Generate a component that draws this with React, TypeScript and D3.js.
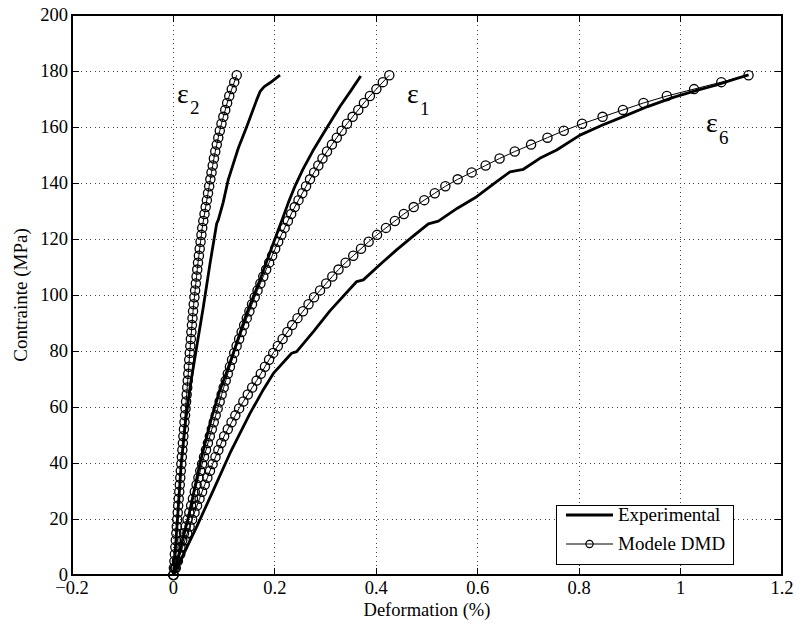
import React from "react";
import * as d3 from "d3";

const xTicks = [-0.2, 0, 0.2, 0.4, 0.6, 0.8, 1, 1.2];
const xTickLabels = ["\u22120.2", "0", "0.2", "0.4", "0.6", "0.8", "1", "1.2"];
const yTicks = [0, 20, 40, 60, 80, 100, 120, 140, 160, 180, 200];
const yTickLabels = ["0", "20", "40", "60", "80", "100", "120", "140", "160", "180", "200"];

const xLabel = "Deformation (%)";
const yLabel = "Contrainte (MPa)";
const legendNames = ["Experimental", "Modele DMD"];

// Model stress levels (MPa), shared by the three model curves
const modelStress = [0, 2.48, 4.96, 7.44, 9.92, 12.4, 14.88, 17.35, 19.83, 22.31, 24.79, 27.27, 29.75, 32.23, 34.71, 37.19, 39.67, 42.15, 44.63, 47.1, 49.58, 52.06, 54.54, 57.02, 59.5, 61.98, 64.46, 66.94, 69.42, 71.9, 74.38, 76.85, 79.33, 81.81, 84.29, 86.77, 89.25, 91.73, 94.21, 96.69, 99.17, 101.65, 104.13, 106.6, 109.08, 111.56, 114.04, 116.52, 119, 121.48, 123.96, 126.44, 128.92, 131.4, 133.88, 136.35, 138.83, 141.31, 143.79, 146.27, 148.75, 151.23, 153.71, 156.19, 158.67, 161.15, 163.63, 166.1, 168.58, 171.06, 173.54, 176.02, 178.5];

const modelE2 = [0, 0.0009, 0.0019, 0.0028, 0.0038, 0.0047, 0.0057, 0.0066, 0.0075, 0.0085,
  0.0094, 0.0104, 0.0115, 0.0125, 0.0135, 0.0145, 0.0156, 0.0166, 0.0176, 0.0186,
  0.0196, 0.0207, 0.0218, 0.0229, 0.0239, 0.0250, 0.0261, 0.0272, 0.0282, 0.0293,
  0.0303, 0.0312, 0.0322, 0.0333, 0.0344, 0.0354, 0.0365, 0.0376, 0.0387, 0.0400,
  0.0414, 0.0428, 0.0442, 0.0456, 0.0470, 0.0485, 0.0502, 0.0518, 0.0535, 0.0552,
  0.0568, 0.0589, 0.0613, 0.0636, 0.0659, 0.0682, 0.0705, 0.0728, 0.0751, 0.0775,
  0.0798, 0.0825, 0.0855, 0.0884, 0.0914, 0.0947, 0.0984, 0.1022, 0.1059, 0.1101,
  0.1150, 0.1199, 0.1248];

const modelE1 = [0, 0.0035, 0.0069, 0.0104, 0.0139, 0.0174, 0.0208, 0.0243, 0.0278, 0.0313,
  0.0349, 0.0385, 0.0421, 0.0457, 0.0493, 0.0529, 0.0565, 0.0603, 0.0642, 0.0680,
  0.0718, 0.0757, 0.0795, 0.0834, 0.0872, 0.0912, 0.0951, 0.0991, 0.1031, 0.1072,
  0.1114, 0.1156, 0.1199, 0.1246, 0.1296, 0.1345, 0.1395, 0.1446, 0.1498, 0.1550,
  0.1603, 0.1658, 0.1715, 0.1772, 0.1829, 0.1887, 0.1947, 0.2006, 0.2066, 0.2128,
  0.2193, 0.2257, 0.2322, 0.2392, 0.2466, 0.2541, 0.2615, 0.2693, 0.2775, 0.2857,
  0.2939, 0.3028, 0.3125, 0.3221, 0.3318, 0.3422, 0.3533, 0.3645, 0.3756, 0.3874,
  0.4002, 0.4129, 0.4257];

const modelE6 = [0, 0.0045, 0.0089, 0.0134, 0.0179, 0.0226, 0.0273, 0.0320, 0.0368, 0.0416,
  0.0466, 0.0515, 0.0565, 0.0617, 0.0669, 0.0721, 0.0773, 0.0829, 0.0886, 0.0943,
  0.1000, 0.1072, 0.1146, 0.1221, 0.1295, 0.1379, 0.1466, 0.1553, 0.1640, 0.1723,
  0.1805, 0.1886, 0.1968, 0.2059, 0.2153, 0.2247, 0.2342, 0.2446, 0.2555, 0.2664,
  0.2773, 0.2891, 0.3012, 0.3133, 0.3255, 0.3395, 0.3546, 0.3698, 0.3849, 0.4015,
  0.4191, 0.4367, 0.4543, 0.4738, 0.4946, 0.5153, 0.5362, 0.5605, 0.5881, 0.6156,
  0.6431, 0.6730, 0.7052, 0.7375, 0.7697, 0.8057, 0.8462, 0.8864, 0.9269, 0.9729,
  1.0266, 1.0803, 1.134];

// Experimental curves
const expE2Strain = [0, 0.008, 0.0155, 0.024, 0.034, 0.0459, 0.059, 0.0722, 0.0854, 0.0885, 0.098, 0.108, 0.113, 0.128, 0.1445, 0.164, 0.1707, 0.1773, 0.1806, 0.1905, 0.2102];
const expE2Stress = [0, 20, 40, 55, 68.5, 81.5, 95.8, 111.3, 125.6, 126.8, 133, 141.1, 144, 152.5, 160.1, 169.6, 172.6, 174.1, 174.6, 175.8, 178.5];

const expE1Strain = [0, 0.013, 0.03, 0.0524, 0.075, 0.0918, 0.105, 0.118, 0.1445, 0.1707, 0.197, 0.2167, 0.2266, 0.24, 0.255, 0.275, 0.2956, 0.3284, 0.35, 0.3693];
const expE1Stress = [0, 8.9, 21, 39.9, 56, 66.1, 72.5, 79.2, 93.5, 105.4, 118.5, 128, 133, 139, 144.8, 151.5, 157.7, 167.3, 173, 178.2];

const expE6Strain = [0, 0.024, 0.046, 0.079, 0.1115, 0.151, 0.175, 0.197, 0.233, 0.243, 0.276, 0.309, 0.322, 0.3614, 0.3745, 0.408, 0.44, 0.4727, 0.5027, 0.5224, 0.56, 0.598, 0.632, 0.6637, 0.69, 0.7225, 0.7557, 0.8017, 0.845, 0.887, 0.935, 0.9857, 1.03, 1.0712, 1.105, 1.134];
const expE6Stress = [0, 9, 17.3, 30.4, 43.5, 57.7, 65.5, 72, 79.2, 79.8, 86.9, 94.4, 97, 104.8, 105.4, 111, 116.1, 121, 125.4, 126.4, 131, 135.1, 139.8, 144, 144.9, 148.8, 151.8, 157.1, 160.6, 163.7, 167.3, 170.6, 173, 175, 177, 178.6];

const W = 796;
const H = 626;
const M = { left: 72, right: 782, top: 15, bottom: 575 };
const FONT = '"Liberation Serif", "Times New Roman", Times, "DejaVu Serif", serif';

export default function App() {
  const x = d3.scaleLinear().domain([-0.2, 1.2]).range([M.left, M.right]);
  const y = d3.scaleLinear().domain([0, 200]).range([M.bottom, M.top]);
  const line = d3
    .line<[number, number]>()
    .x((d) => x(d[0]))
    .y((d) => y(d[1]));

  const zip = (a: number[], b: number[]) => a.map((v, i) => [v, b[i]] as [number, number]);
  const models = [modelE2, modelE1, modelE6].map((s) => zip(s, modelStress));
  const exps = [
    zip(expE2Strain, expE2Stress),
    zip(expE1Strain, expE1Stress),
    zip(expE6Strain, expE6Stress),
  ];

  const gridColor = "#444";
  const tickLen = 7;
  const txt = { fontFamily: FONT };

  return (
    <svg
      width={W}
      height={H}
      style={{ position: "absolute", left: 0, top: 0, background: "#fff", fontFamily: FONT }}
    >
      <rect x={0} y={0} width={W} height={H} fill="#fff" />
      {/* grid */}
      <g stroke={gridColor} strokeWidth={1} strokeDasharray="1,3.5" shapeRendering="crispEdges">
        {xTicks.map((t) => (
          <line key={"gx" + t} x1={x(t)} x2={x(t)} y1={M.bottom} y2={M.top} />
        ))}
        {yTicks.map((t) => (
          <line key={"gy" + t} x1={M.left} x2={M.right} y1={y(t)} y2={y(t)} />
        ))}
      </g>
      {/* ticks */}
      <g stroke="#000" strokeWidth={1} shapeRendering="crispEdges">
        {xTicks.map((t) => (
          <g key={"tx" + t}>
            <line x1={x(t)} x2={x(t)} y1={M.bottom} y2={M.bottom - tickLen} />
            <line x1={x(t)} x2={x(t)} y1={M.top} y2={M.top + tickLen} />
          </g>
        ))}
        {yTicks.map((t) => (
          <g key={"ty" + t}>
            <line x1={M.left} x2={M.left + tickLen} y1={y(t)} y2={y(t)} />
            <line x1={M.right} x2={M.right - tickLen} y1={y(t)} y2={y(t)} />
          </g>
        ))}
      </g>
      {/* curves */}
      <g fill="none" stroke="#000">
        {exps.map((d, i) => (
          <path key={"e" + i} d={line(d) || ""} strokeWidth={2.8} strokeLinejoin="round" />
        ))}
        {models.map((d, i) => (
          <g key={"m" + i}>
            <path d={line(d) || ""} strokeWidth={1} />
            {d.map((p, j) => (
              <circle key={j} cx={x(p[0])} cy={y(p[1])} r={4.6} strokeWidth={1.3} />
            ))}
          </g>
        ))}
      </g>
      {/* frame */}
      <rect
        x={M.left}
        y={M.top}
        width={M.right - M.left}
        height={M.bottom - M.top}
        fill="none"
        stroke="#000"
        strokeWidth={1.2}
        shapeRendering="crispEdges"
      />
      {/* tick labels */}
      <g fontSize={18.5} fill="#000" style={txt}>
        {xTicks.map((t, i) => (
          <text key={"lx" + t} x={x(t)} y={594} textAnchor="middle" style={txt}>
            {xTickLabels[i]}
          </text>
        ))}
        {yTicks.map((t, i) => (
          <text key={"ly" + t} x={68} y={y(t) + 6} textAnchor="end" style={txt}>
            {yTickLabels[i]}
          </text>
        ))}
      </g>
      {/* axis labels */}
      <text x={(M.left + M.right) / 2} y={616} textAnchor="middle" fontSize={18.5} style={txt}>
        {xLabel}
      </text>
      <text
        transform={`translate(27,${(M.top + M.bottom) / 2}) rotate(-90)`}
        textAnchor="middle"
        fontSize={19}
        style={txt}
      >
        {yLabel}
      </text>
      {/* epsilon labels */}
      <g fill="#000" style={txt}>
        <text x={177} y={103} fontSize={28} style={txt}>ε</text>
        <text x={190} y={114} fontSize={19} style={txt}>2</text>
        <text x={407} y={103} fontSize={28} style={txt}>ε</text>
        <text x={420} y={115} fontSize={19} style={txt}>1</text>
        <text x={706} y={132} fontSize={28} style={txt}>ε</text>
        <text x={719} y={144} fontSize={19} style={txt}>6</text>
      </g>
      {/* legend */}
      <g>
        <rect x={556} y={505} width={177} height={59} fill="#fff" stroke="#000" strokeWidth={1} shapeRendering="crispEdges" />
        <line x1={566} x2={613} y1={515} y2={515} stroke="#000" strokeWidth={2.8} />
        <line x1={566} x2={613} y1={544} y2={544} stroke="#000" strokeWidth={1} />
        <circle cx={589.5} cy={544} r={3.6} fill="none" stroke="#000" strokeWidth={1.2} />
        <text x={618} y={521} fontSize={19} style={txt}>{legendNames[0]}</text>
        <text x={618} y={550} fontSize={19} style={txt}>{legendNames[1]}</text>
      </g>
    </svg>
  );
}
